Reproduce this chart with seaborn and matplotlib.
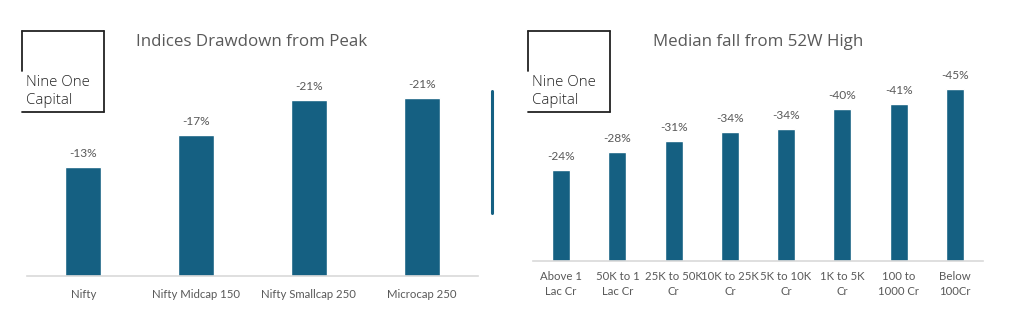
import matplotlib
matplotlib.use("Agg")
import matplotlib.pyplot as plt
import seaborn as sns
import pandas as pd
from matplotlib.lines import Line2D

# ---- data ----
idx_names = ["Nifty", "Nifty Midcap 150", "Nifty Smallcap 250", "Microcap 250"]
idx_drawdown = [13.1, 17.0, 21.2, 21.4]          # % fall from peak (shown as negative)

mcap_buckets = ["Above 1\nLac Cr", "50K to 1\nLac Cr", "25K to 50K\nCr", "10K to 25K\nCr",
                "5K to 10K\nCr", "1K to 5K\nCr", "100 to\n1000 Cr", "Below\n100Cr"]
mcap_fall = [23.8, 28.4, 31.3, 33.7, 34.4, 39.7, 41.0, 44.9]   # median % fall from 52W high

title_left = "Indices Drawdown from Peak"
title_right = "Median fall from 52W High"
logo_lines = ["Nine One", "Capital"]

BAR = "#156082"
TXT = "#595959"
W, H = 1015, 327

sns.set_theme(style="white")
plt.rcParams["font.family"] = ["Lato", "DejaVu Sans"]

fig = plt.figure(figsize=(W / 100, H / 100), dpi=100)

def px_axes(x0, x1, ybase, ytop):
    return fig.add_axes([x0 / W, (H - ybase) / H, (x1 - x0) / W, (ybase - ytop) / H])

def style(ax, ymax):
    ax.set_ylim(0, ymax)
    for s in ["top", "right", "left"]:
        ax.spines[s].set_visible(False)
    ax.spines["bottom"].set_color("#d9d9d9")
    ax.spines["bottom"].set_linewidth(1.2)
    ax.set_yticks([])
    ax.set_xlabel("")
    ax.set_ylabel("")
    ax.tick_params(axis="x", length=0, pad=9, labelsize=8.2, labelcolor=TXT)
    ax.patch.set_alpha(0)

# left chart
df1 = pd.DataFrame({"name": idx_names, "val": idx_drawdown})
ax1 = px_axes(27, 478, 276, 30)
sns.barplot(data=df1, x="name", y="val", color=BAR, width=0.32, saturation=1, ax=ax1)
ax1.set_xlim(-0.5, len(idx_names) - 0.5)
style(ax1, 246 / 8.3)
ax1.bar_label(ax1.containers[0], labels=[f"-{v:.0f}%" for v in idx_drawdown],
              padding=6, fontsize=8.6, color=TXT)

# right chart
df2 = pd.DataFrame({"name": mcap_buckets, "val": mcap_fall})
ax2 = px_axes(533, 983, 261, 30)
sns.barplot(data=df2, x="name", y="val", color=BAR, width=0.32, saturation=1, ax=ax2)
ax2.set_xlim(-0.5, len(mcap_buckets) - 0.5)
style(ax2, 231 / 3.83)
ax2.tick_params(axis="x", pad=7)
for t in ax2.get_xticklabels():
    t.set_linespacing(1.45)
ax2.bar_label(ax2.containers[0], labels=[f"-{v:.0f}%" for v in mcap_fall],
              padding=6, fontsize=8.6, color=TXT)

# titles
tfam = ["Open Sans", "DejaVu Sans"]
fig.text(252 / W, 1 - 42 / H, title_left, ha="center", va="center", fontsize=12.2,
         color=TXT, family=tfam)
fig.text(758 / W, 1 - 42 / H, title_right, ha="center", va="center", fontsize=12.2,
         color=TXT, family=tfam)

# logos
def logo(x0, x1, y0, y1):
    fx = lambda x: x / W
    fy = lambda y: 1 - y / H
    kw = dict(color="#222222", lw=1.3, transform=fig.transFigure)
    fig.add_artist(Line2D([fx(x0), fx(x0)], [fy(y0 + 40), fy(y0)], **kw))
    fig.add_artist(Line2D([fx(x0), fx(x1)], [fy(y0), fy(y0)], **kw))
    fig.add_artist(Line2D([fx(x1), fx(x1)], [fy(y0), fy(y1)], **kw))
    fig.add_artist(Line2D([fx(x0), fx(x1)], [fy(y1), fy(y1)], **kw))
    for i, yy in enumerate([82, 100]):
        fig.text(fx(x0 + 4), fy(yy), logo_lines[i], ha="left", va="center",
                 fontsize=10.8, color="#222222", fontweight="light",
                 family=["Open Sans", "DejaVu Sans"])

logo(22, 104, 31, 112)
logo(528, 610, 31, 112)

# separator line
fig.add_artist(Line2D([492 / W, 492 / W], [1 - 91 / H, 1 - 213 / H], color=BAR, lw=2.2,
                      transform=fig.transFigure))

fig.savefig("out.png", dpi=100)
